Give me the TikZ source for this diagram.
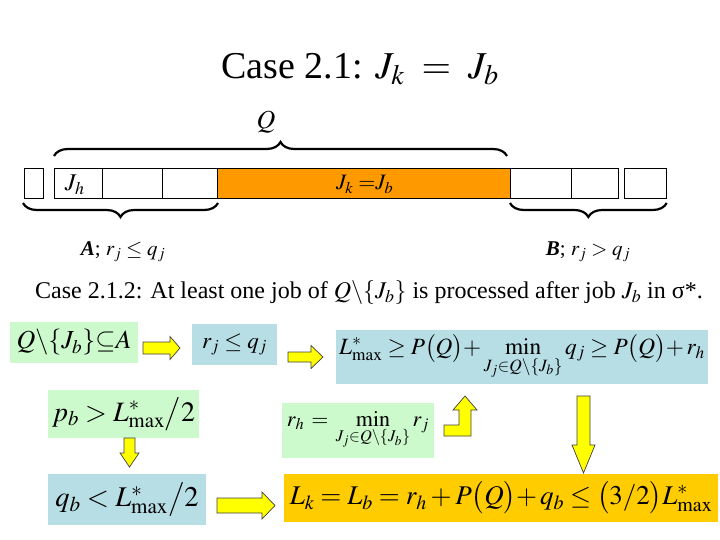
\documentclass[tikz,border=0pt]{standalone}
\usepackage{mathptmx}
\usepackage{amssymb}
\usepackage{fontspec}
\setmainfont{Liberation Serif}
\usetikzlibrary{decorations.pathreplacing,calc}
\definecolor{gbg}{RGB}{204,250,204}
\definecolor{bbg}{RGB}{183,221,229}
\definecolor{obar}{RGB}{255,153,0}
\definecolor{gold}{RGB}{255,204,0}
\definecolor{yarrow}{RGB}{255,255,0}
\tikzset{
  cell/.style={draw=black, line width=0.8pt, inner sep=0pt},
  gbox/.style={fill=gbg, inner sep=0pt},
  bbox/.style={fill=bbg, inner sep=0pt},
  obox/.style={fill=gold, inner sep=0pt},
  yarr/.style={fill=yarrow, draw=black!75, line width=0.7pt, line join=miter},
  brc/.style={decorate, decoration={brace, amplitude=14pt}, line width=2.2pt},
  fs/.style={font=\fontsize{#1}{#1}\selectfont}
}
\begin{document}
\begin{tikzpicture}[x=1pt,y=-1pt]
\useasboundingbox (0,0) rectangle (720,540);
% title
\node[fs=38] (title) at (360,69) {Case 2.1: $J_k\; = \;J_b$};
% job row
\node[cell, minimum width=18.4, minimum height=30, anchor=north west] (c0) at (24.3,168.3) {};
\node[cell, minimum width=48, minimum height=30, anchor=north west] (c1) at (54.3,168.3) {};
\node[cell, minimum width=60, minimum height=30, anchor=north west] (c2) at (102.3,168.3) {};
\node[cell, minimum width=54.4, minimum height=30, anchor=north west] (c3) at (162.3,168.3) {};
\node[cell, fill=obar, minimum width=293.3, minimum height=30, anchor=north west] (ck) at (216.7,168.3) {};
\node[cell, minimum width=60.7, minimum height=30, anchor=north west] (c5) at (510,168.3) {};
\node[cell, minimum width=47.6, minimum height=30, anchor=north west] (c6) at (570.7,168.3) {};
\node[cell, minimum width=41.7, minimum height=30, anchor=north west] (c7) at (624,168.3) {};
\node[fs=24] (jh) at ($(c1.center)+(-4,1)$) {$J_h$};
\node[fs=22] (jk) at ($(ck.center)+(1,1)$) {$J_k\;{=}J_b$};
% braces
\draw[brc] (54,156) -- (507,156);
\node[fs=26] (q) at (266,122) {$Q$};
\draw[brc] (218,203) -- (23,203);
\draw[brc] (666.7,203) -- (510,203);
\node[fs=21] (la) at (123,252) {\textbf{\textit{A}}; $r_j \le q_j$};
\node[fs=21] (lb) at (588,252) {\textbf{\textit{B}}; $r_j > q_j$};
% subtitle
\node[fs=24] (sub) at (369,293) {Case 2.1.2: At least one job of $Q\backslash\{J_b\}$ is processed after job $J_b$ in σ*.};
% boxes
\node[gbox, minimum width=128, minimum height=41] (qa) at (74,342.5) {\fontsize{26}{26}\selectfont$Q\backslash\{J_b\}{\subseteq}A$};
\node[bbox, minimum width=85, minimum height=41] (rq) at (234.5,344.5) {\fontsize{23}{23}\selectfont$r_j \le q_j$};
\node[bbox, minimum width=372, minimum height=54] (lm) at (522,357) {\fontsize{23.3}{23.3}\selectfont$L^*_{\max} \ge P\big(Q\big){+}\min\limits_{J_j\in Q\backslash\{J_b\}} q_j \ge P\big(Q\big){+}\,r_h$};
\node[gbox, minimum width=151, minimum height=48] (pb) at (123.5,414) {\fontsize{28}{28}\selectfont$p_b > L^*_{\max}\big/2$};
\node[bbox, minimum width=158, minimum height=51] (qb) at (127,499.5) {\fontsize{28.5}{28.5}\selectfont$q_b < L^*_{\max}\big/2$};
\node[gbox, minimum width=152, minimum height=55] (rh) at (358,430.5) {\fontsize{22}{22}\selectfont$r_h \,=\, \min\limits_{J_j\in Q\backslash\{J_b\}} r_j$};
\node[obox, minimum width=434, minimum height=48] (lk) at (501,498) {\fontsize{27}{27}\selectfont$L_k = L_b = r_h + P\big(Q\big){+}\,q_b \le \big(3/2\big)L^*_{\max}$};
% yellow block arrows
\filldraw[yarr] (143,342) -- (170,342) -- (170,336.5) -- (180,348) -- (170,359.5) -- (170,354) -- (143,354) -- cycle;
\filldraw[yarr] (288,352) -- (311,352) -- (311,345.5) -- (323,357) -- (311,368.5) -- (311,362) -- (288,362) -- cycle;
\filldraw[yarr] (217,498) -- (262,498) -- (262,492) -- (275,505.5) -- (262,519) -- (262,513) -- (217,513) -- cycle;
\filldraw[yarr] (124,438) -- (135,438) -- (135,453) -- (139,453) -- (129.5,467) -- (120,453) -- (124,453) -- cycle;
\filldraw[yarr] (444,425) -- (459,425) -- (459,410) -- (453,410) -- (465,396) -- (477,410) -- (471,410) -- (471,436) -- (444,436) -- cycle;
\filldraw[yarr] (577,396) -- (590,396) -- (590,445) -- (595,445) -- (583.5,473) -- (572,445) -- (577,445) -- cycle;
\end{tikzpicture}
\end{document}
